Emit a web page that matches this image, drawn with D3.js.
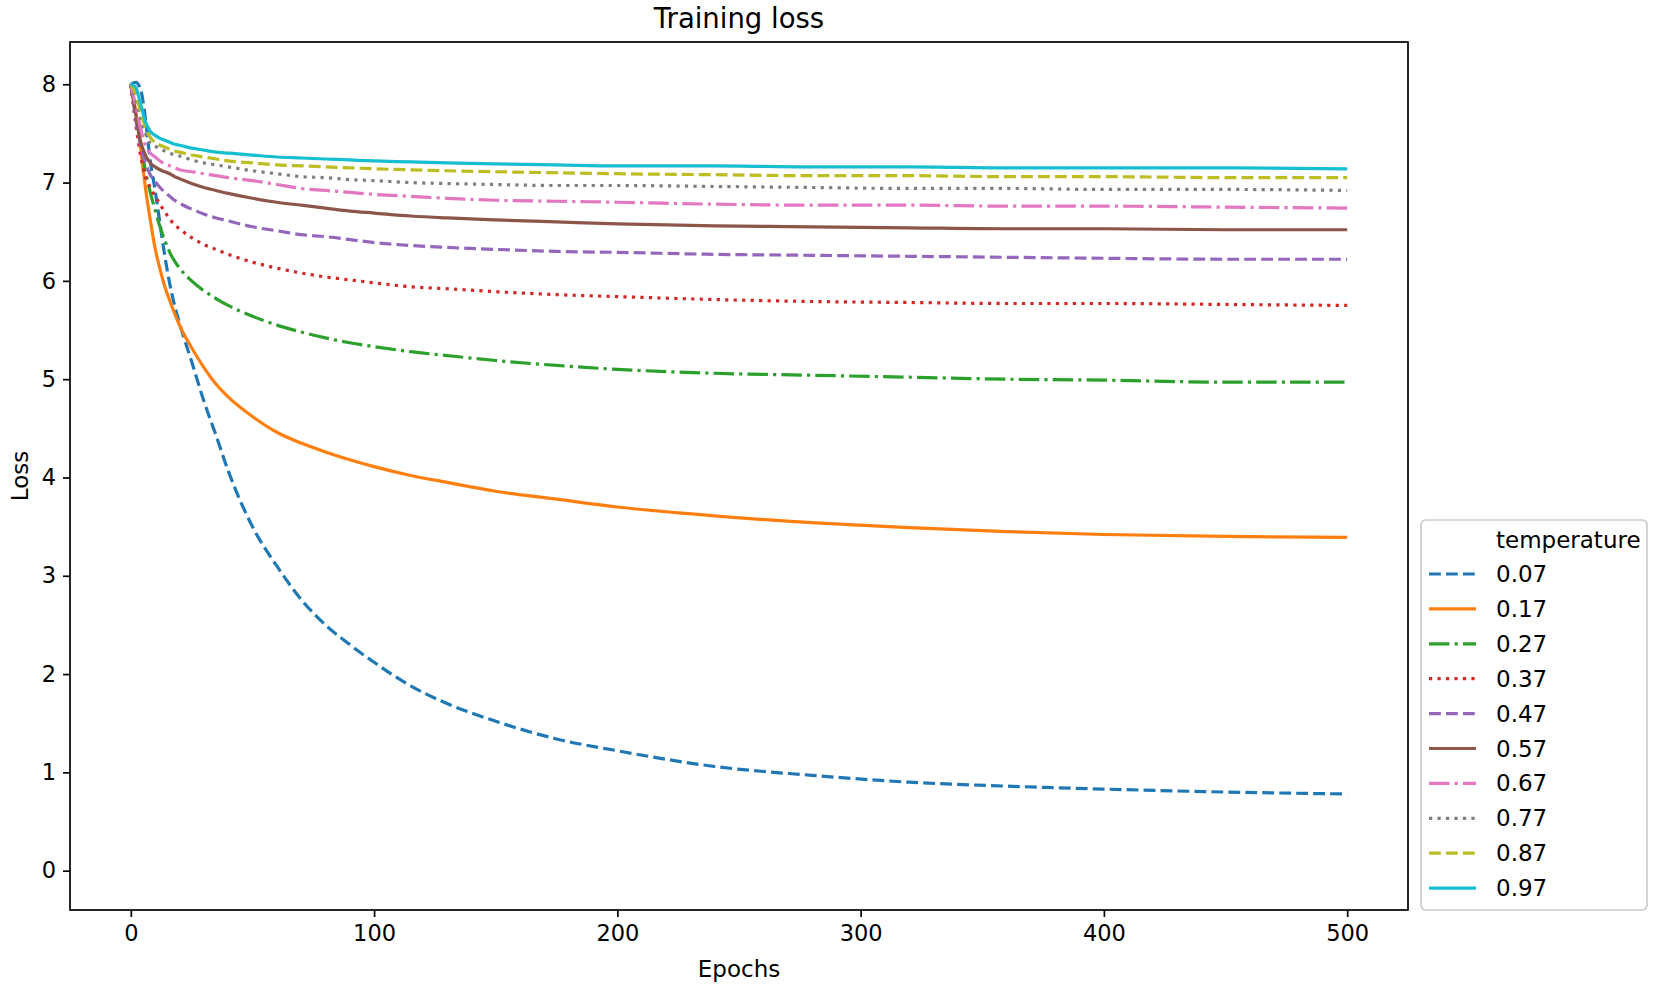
<!DOCTYPE html>
<html>
<head>
<meta charset="utf-8">
<script src="https://cdn.jsdelivr.net/npm/d3@7"></script>
<style>
  body { margin: 0; background: #fff; }
  text { font-family: "DejaVu Sans", sans-serif; fill: #000; }
</style>
</head>
<body>
<div id="chart"></div>
<script>
const epochs = [0, 2, 4, 6, 8, 10, 12, 14, 16, 18, 20, 25, 30, 35, 40, 50, 60, 70, 80, 90,
                100, 115, 130, 150, 175, 200, 240, 280, 320, 360, 400, 450, 500];

const temperatures = ["0.07", "0.17", "0.27", "0.37", "0.47", "0.57", "0.67", "0.77", "0.87", "0.97"];

const loss007 = [8.00, 8.02, 7.95, 7.65, 7.22, 6.92, 6.58, 6.25, 5.97, 5.75, 5.57, 5.18, 4.78, 4.43, 4.07, 3.50, 3.10, 2.76, 2.50, 2.30,
                 2.12, 1.88, 1.70, 1.52, 1.34, 1.22, 1.06, 0.97, 0.90, 0.86, 0.83, 0.80, 0.78];
const loss017 = [8.00, 7.72, 7.35, 6.95, 6.62, 6.33, 6.12, 5.94, 5.80, 5.67, 5.55, 5.32, 5.12, 4.95, 4.82, 4.62, 4.46, 4.35, 4.26, 4.18,
                 4.11, 4.02, 3.95, 3.86, 3.78, 3.70, 3.61, 3.54, 3.49, 3.45, 3.42, 3.40, 3.39];
const loss027 = [8.00, 7.70, 7.40, 7.12, 6.90, 6.72, 6.55, 6.41, 6.29, 6.20, 6.13, 6.00, 5.90, 5.82, 5.75, 5.64, 5.55, 5.48, 5.42, 5.37,
                 5.33, 5.28, 5.24, 5.19, 5.14, 5.10, 5.06, 5.04, 5.02, 5.00, 4.99, 4.97, 4.97];
const loss037 = [8.00, 7.60, 7.28, 7.06, 6.95, 6.86, 6.78, 6.70, 6.63, 6.57, 6.53, 6.44, 6.37, 6.32, 6.27, 6.19, 6.13, 6.08, 6.04, 6.01,
                 5.98, 5.94, 5.92, 5.89, 5.86, 5.84, 5.81, 5.79, 5.78, 5.77, 5.77, 5.76, 5.75];
const loss047 = [8.00, 7.65, 7.38, 7.20, 7.08, 7.01, 6.95, 6.90, 6.86, 6.82, 6.79, 6.73, 6.68, 6.64, 6.61, 6.55, 6.51, 6.47, 6.45, 6.42,
                 6.39, 6.36, 6.34, 6.32, 6.30, 6.29, 6.27, 6.26, 6.25, 6.24, 6.23, 6.22, 6.22];
const loss057 = [8.00, 7.70, 7.42, 7.28, 7.20, 7.16, 7.13, 7.11, 7.09, 7.06, 7.04, 6.99, 6.95, 6.92, 6.89, 6.84, 6.80, 6.77, 6.74, 6.71,
                 6.69, 6.66, 6.64, 6.62, 6.60, 6.58, 6.56, 6.55, 6.54, 6.53, 6.53, 6.52, 6.52];
const loss067 = [8.00, 7.78, 7.55, 7.38, 7.30, 7.26, 7.22, 7.19, 7.17, 7.15, 7.13, 7.11, 7.09, 7.07, 7.05, 7.02, 6.98, 6.94, 6.92, 6.90,
                 6.88, 6.86, 6.84, 6.82, 6.81, 6.80, 6.78, 6.77, 6.77, 6.76, 6.76, 6.75, 6.74];
const loss077 = [8.00, 7.85, 7.65, 7.50, 7.40, 7.37, 7.34, 7.32, 7.30, 7.28, 7.27, 7.23, 7.20, 7.18, 7.16, 7.12, 7.09, 7.06, 7.05, 7.03,
                 7.02, 7.00, 6.99, 6.98, 6.97, 6.97, 6.96, 6.95, 6.94, 6.94, 6.93, 6.93, 6.92];
const loss087 = [8.00, 7.90, 7.72, 7.56, 7.46, 7.41, 7.38, 7.36, 7.34, 7.32, 7.31, 7.28, 7.26, 7.24, 7.22, 7.20, 7.18, 7.17, 7.16, 7.15,
                 7.14, 7.13, 7.12, 7.11, 7.10, 7.09, 7.08, 7.07, 7.07, 7.06, 7.06, 7.05, 7.05];
const loss097 = [8.00, 7.97, 7.80, 7.62, 7.52, 7.48, 7.45, 7.43, 7.41, 7.39, 7.38, 7.35, 7.33, 7.31, 7.30, 7.28, 7.26, 7.25, 7.24, 7.23,
                 7.22, 7.21, 7.20, 7.19, 7.18, 7.17, 7.17, 7.16, 7.16, 7.15, 7.15, 7.15, 7.14];

const xTicks = [0, 100, 200, 300, 400, 500];
const yTicks = [0, 1, 2, 3, 4, 5, 6, 7, 8];

const allLoss = [loss007, loss017, loss027, loss037, loss047, loss057, loss067, loss077, loss087, loss097];
const colors = ["#1f77b4", "#ff7f0e", "#2ca02c", "#d62728", "#9467bd", "#8c564b", "#e377c2", "#7f7f7f", "#bcbd22", "#17becf"];

// set the dimensions of the figure and the axes box
const W = 1653, H = 992;
const margin = {top: 42, right: 245, bottom: 82, left: 70};
const width = W - margin.left - margin.right;
const height = H - margin.top - margin.bottom;
const lw = 3.2;

// matplotlib style dash patterns: dashed, solid, dashdot, dotted
const dashes = [
  [3.7 * lw, 1.6 * lw].join(","),
  "none",
  [6.4 * lw, 1.6 * lw, 1 * lw, 1.6 * lw].join(","),
  [1 * lw, 1.65 * lw].join(",")
];

const svg = d3.select("#chart")
  .append("svg")
  .attr("width", W)
  .attr("height", H);

const g = svg.append("g")
  .attr("transform", `translate(${margin.left},${margin.top})`);

const x = d3.scaleLinear().domain([-25, 525]).range([0, width]);
const y = d3.scaleLinear().domain([-0.40, 8.43]).range([height, 0]);

g.append("clipPath").attr("id", "clip")
  .append("rect").attr("width", width).attr("height", height);

// lines
const line = d3.line()
  .x(d => x(d[0]))
  .y(d => y(d[1]))
  .curve(d3.curveMonotoneX);

allLoss.forEach((vals, i) => {
  g.append("path")
    .datum(epochs.map((e, j) => [e, vals[j]]))
    .attr("clip-path", "url(#clip)")
    .attr("fill", "none")
    .attr("stroke", colors[i])
    .attr("stroke-width", lw)
    .attr("stroke-dasharray", dashes[i % 4])
    .attr("stroke-linejoin", "round")
    .attr("d", line);
});

// X axis
const xAxis = g.append("g")
  .attr("transform", `translate(0,${height})`)
  .call(d3.axisBottom(x).tickValues(xTicks).tickSize(7).tickPadding(8));
// Y axis
const yAxis = g.append("g")
  .call(d3.axisLeft(y).tickValues(yTicks).tickFormat(d3.format("d")).tickSize(7).tickPadding(7));

[xAxis, yAxis].forEach(a => {
  a.select(".domain").remove();
  a.selectAll(".tick line").attr("stroke", "#000").attr("stroke-width", 1.7);
  a.selectAll(".tick text").style("font-size", "22.5px").attr("fill", "#000");
});

// frame
g.append("rect")
  .attr("width", width)
  .attr("height", height)
  .attr("fill", "none")
  .attr("stroke", "#000")
  .attr("stroke-width", 1.7);

// title and labels
svg.append("text")
  .attr("x", margin.left + width / 2)
  .attr("y", 28)
  .attr("text-anchor", "middle")
  .style("font-size", "27.5px")
  .text("Training loss");

svg.append("text")
  .attr("x", margin.left + width / 2)
  .attr("y", 977)
  .attr("text-anchor", "middle")
  .style("font-size", "23px")
  .text("Epochs");

svg.append("text")
  .attr("transform", `translate(28,${margin.top + height / 2}) rotate(-90)`)
  .attr("text-anchor", "middle")
  .style("font-size", "23px")
  .text("Loss");

// legend
const lx = margin.left + width + 13, ly = 520;
const legend = svg.append("g").attr("transform", `translate(${lx},${ly})`);
legend.append("rect")
  .attr("width", 226)
  .attr("height", 390)
  .attr("rx", 5)
  .attr("fill", "#fff")
  .attr("stroke", "#cccccc")
  .attr("stroke-width", 1.7);

const rowH = 34.9;
legend.append("text")
  .attr("x", 75)
  .attr("y", 20)
  .attr("dy", "0.35em")
  .style("font-size", "23px")
  .text("temperature");

temperatures.forEach((t, i) => {
  const ry = 54 + rowH * i;
  legend.append("line")
    .attr("x1", 8).attr("x2", 55)
    .attr("y1", ry).attr("y2", ry)
    .attr("stroke", colors[i])
    .attr("stroke-width", lw)
    .attr("stroke-dasharray", dashes[i % 4]);
  legend.append("text")
    .attr("x", 75)
    .attr("y", ry)
    .attr("dy", "0.35em")
    .style("font-size", "23px")
    .text(t);
});
</script>
</body>
</html>
